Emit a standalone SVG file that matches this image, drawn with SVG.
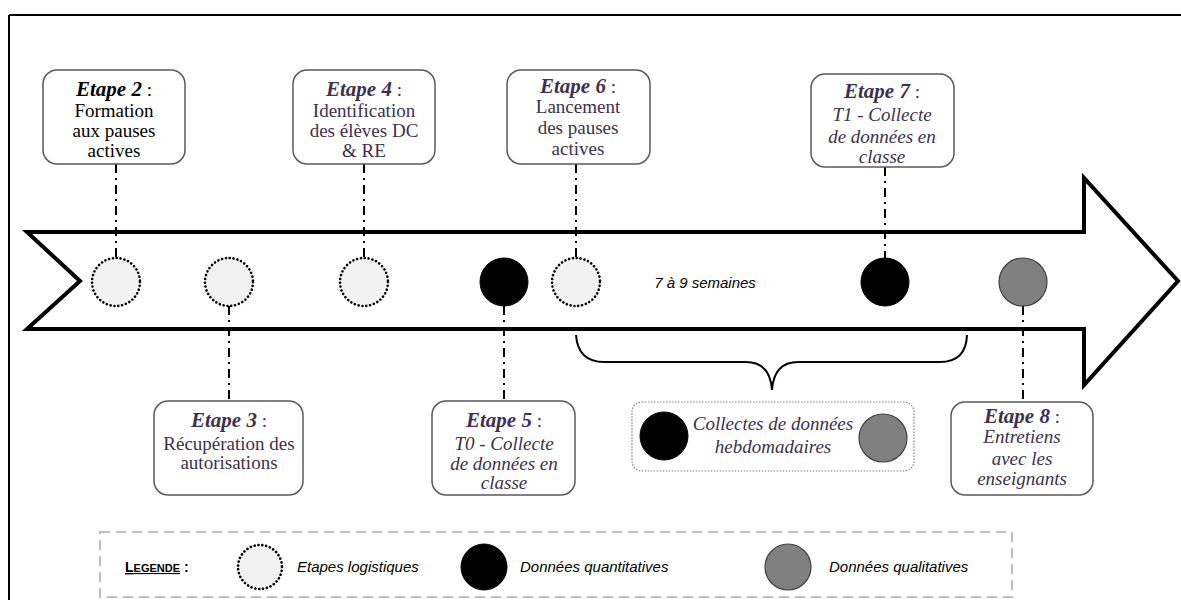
<svg xmlns="http://www.w3.org/2000/svg" width="1181" height="600" viewBox="0 0 1181 600">
<style>
.box{fill:#fff;stroke:#595959;stroke-width:1.5}
.log{fill:#f2f2f2;stroke:#000;stroke-width:2.6;stroke-dasharray:0.1 3.8;stroke-linecap:round}
.qt{fill:#000;stroke:#000;stroke-width:1}
.ql{fill:#808080;stroke:#404040;stroke-width:1.2}
.dd{stroke:#000;stroke-width:2;stroke-dasharray:9 5 2 5;fill:none}
.t{font-family:"Liberation Serif",serif;font-size:19px;text-anchor:middle;fill:#3d3050}
.tb{fill:#000}
.ti{font-weight:bold;font-style:italic;font-size:21px}
.it{font-style:italic}
.s{font-family:"Liberation Sans",sans-serif;font-size:15px;font-style:italic;fill:#000}
</style>
<g id="frame" fill="none" stroke="#000" stroke-width="2">
<line x1="9" y1="15" x2="1181" y2="15"/>
<line x1="9" y1="15" x2="9" y2="600"/>
</g>
<g id="timeline-arrow">
<polygon points="27,232 1084,232 1084,178 1178,281 1084,385 1084,329 27,329 80,281" fill="#fff" stroke="#000" stroke-width="4" stroke-linejoin="miter"/>
<text class="s" x="705" y="288" text-anchor="middle">7 à 9 semaines</text>
</g>
<g id="connectors">
<line class="dd" x1="116" y1="164" x2="116" y2="258"/>
<line class="dd" x1="229" y1="306" x2="229" y2="401"/>
<line class="dd" x1="364" y1="164" x2="364" y2="258"/>
<line class="dd" x1="504" y1="306" x2="504" y2="401"/>
<line class="dd" x1="576" y1="164" x2="576" y2="258"/>
<line class="dd" x1="885" y1="167" x2="885" y2="258"/>
<line class="dd" x1="1023" y1="306" x2="1023" y2="402"/>
<path d="M576,335 Q578,362 604,362 L746,362 Q770,362 772,390 Q774,362 798,362 L940,362 Q966,362 967,335" fill="none" stroke="#000" stroke-width="2"/>
</g>
<g id="points">
<circle class="log" cx="116" cy="282" r="24"/>
<circle class="log" cx="229" cy="282" r="24"/>
<circle class="log" cx="364" cy="282" r="24"/>
<circle class="qt" cx="504" cy="282" r="24"/>
<circle class="log" cx="576" cy="282" r="24"/>
<circle class="qt" cx="885" cy="282" r="24"/>
<circle class="ql" cx="1023" cy="282" r="24"/>
</g>
<g id="etape2">
<rect class="box" x="43" y="70" width="142" height="94" rx="14"/>
<text class="t tb" x="114" y="96"><tspan class="ti">Etape 2</tspan> :</text>
<text class="t tb" x="114" y="117">Formation</text>
<text class="t tb" x="114" y="137">aux pauses</text>
<text class="t tb" x="114" y="157">actives</text>
</g>
<g id="etape4">
<rect class="box" x="293" y="70" width="142" height="94" rx="14"/>
<text class="t" x="364" y="96"><tspan class="ti">Etape 4</tspan> :</text>
<text class="t" x="364" y="117">Identification</text>
<text class="t" x="364" y="137">des élèves DC</text>
<text class="t" x="364" y="157">&amp; RE</text>
</g>
<g id="etape6">
<rect class="box" x="507" y="70" width="143" height="94" rx="14"/>
<text class="t" x="578" y="93"><tspan class="ti">Etape 6</tspan> :</text>
<text class="t" x="578" y="113">Lancement</text>
<text class="t" x="578" y="134">des pauses</text>
<text class="t" x="578" y="155">actives</text>
</g>
<g id="etape7">
<rect class="box" x="811" y="74" width="143" height="93" rx="14"/>
<text class="t" x="882" y="98"><tspan class="ti">Etape 7</tspan> :</text>
<text class="t it" x="882" y="121">T1 - Collecte</text>
<text class="t it" x="882" y="143">de données en</text>
<text class="t it" x="882" y="163">classe</text>
</g>
<g id="etape3">
<rect class="box" x="154" y="401" width="149" height="94" rx="14"/>
<text class="t" x="229" y="427"><tspan class="ti">Etape 3</tspan> :</text>
<text class="t" x="229" y="450">Récupération des</text>
<text class="t" x="229" y="469">autorisations</text>
</g>
<g id="etape5">
<rect class="box" x="432" y="401" width="143" height="94" rx="14"/>
<text class="t" x="504" y="427"><tspan class="ti">Etape 5</tspan> :</text>
<text class="t it" x="504" y="450">T0 - Collecte</text>
<text class="t it" x="504" y="470">de données en</text>
<text class="t it" x="504" y="489">classe</text>
</g>
<g id="collectes">
<rect x="632" y="402" width="282" height="69" rx="10" fill="#fff" stroke="#7f7f7f" stroke-width="1.2" stroke-dasharray="1.5 1.5"/>
<circle class="qt" cx="664" cy="436" r="24"/>
<circle class="ql" cx="883" cy="438" r="24"/>
<text class="t it" x="773" y="430">Collectes de données</text>
<text class="t it" x="773" y="453">hebdomadaires</text>
</g>
<g id="etape8">
<rect class="box" x="951" y="402" width="142" height="93" rx="14"/>
<text class="t" x="1022" y="423"><tspan class="ti">Etape 8</tspan>  :</text>
<text class="t it" x="1022" y="443">Entretiens</text>
<text class="t it" x="1022" y="465">avec les</text>
<text class="t it" x="1022" y="485">enseignants</text>
</g>
<g id="legend">
<rect x="100" y="532" width="912" height="65" fill="#fff" stroke="#bfbfbf" stroke-width="2" stroke-dasharray="10 6"/>
<text x="125" y="572" font-family="'Liberation Sans',sans-serif" font-weight="bold" fill="#000"><tspan text-decoration="underline"><tspan font-size="14">L</tspan><tspan font-size="11">EGENDE</tspan></tspan><tspan font-size="14"> :</tspan></text>
<circle class="log" cx="260" cy="567" r="22"/>
<text class="s" x="297" y="572">Etapes logistiques</text>
<circle class="qt" cx="484" cy="567" r="23"/>
<text class="s" x="520" y="572">Données quantitatives</text>
<circle class="ql" cx="788" cy="567" r="23"/>
<text class="s" x="829" y="572">Données qualitatives</text>
</g>
</svg>
